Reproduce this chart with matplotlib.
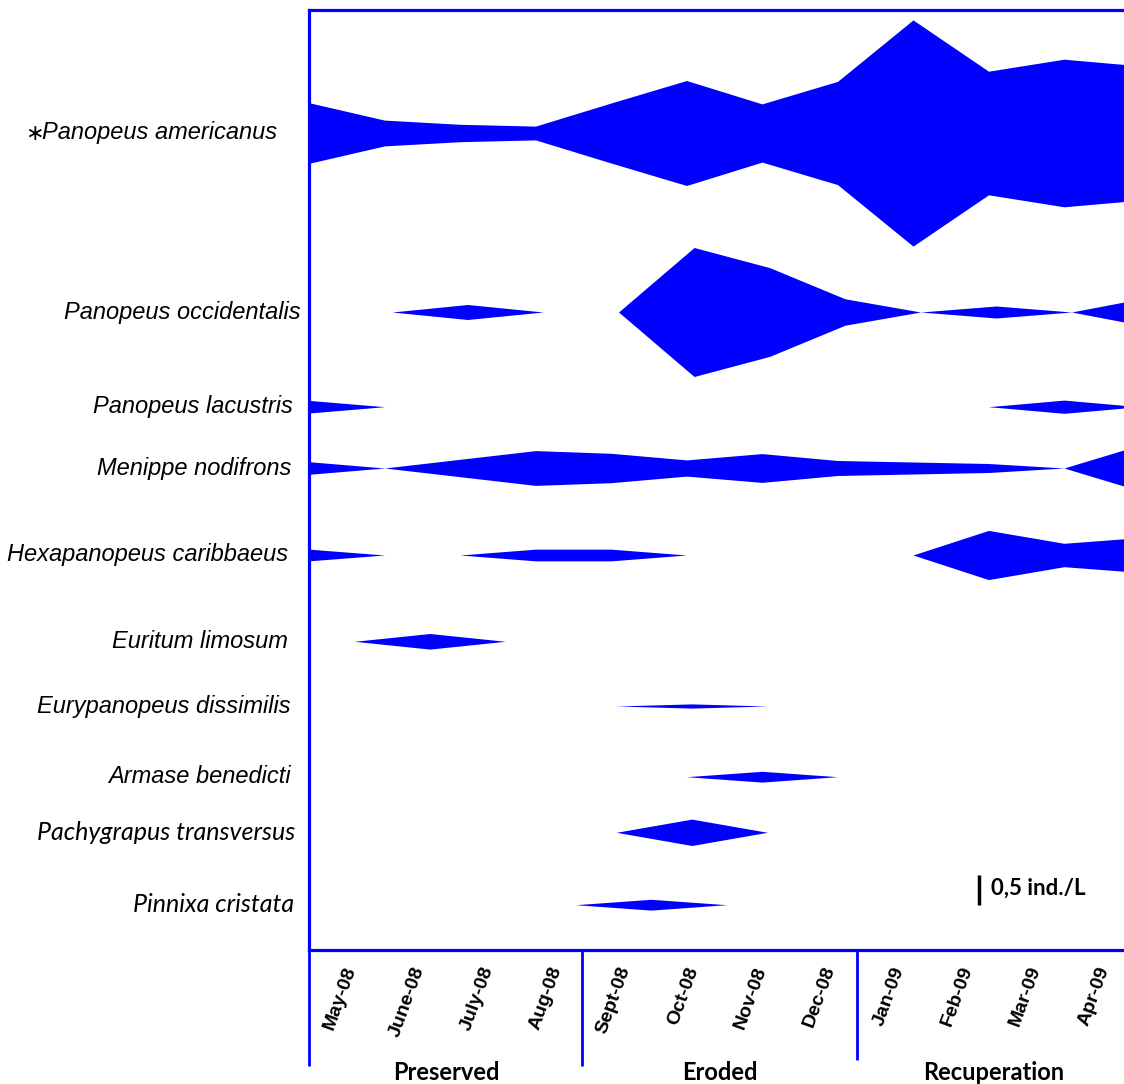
import numpy as np
import matplotlib
matplotlib.use("Agg")
import matplotlib.pyplot as plt

# ---------------- data ----------------
months = ["May-08", "June-08", "July-08", "Aug-08", "Sept-08", "Oct-08",
          "Nov-08", "Dec-08", "Jan-09", "Feb-09", "Mar-09", "Apr-09"]
periods = ["Preserved", "Eroded", "Recuperation"]

species = ["Panopeus americanus", "Panopeus occidentalis", "Panopeus lacustris",
           "Menippe nodifrons", "Hexapanopeus caribbaeus", "Euritum limosum",
           "Eurypanopeus dissimilis", "Armase benedicti", "Pachygrapus transversus",
           "Pinnixa cristata"]

# density (ind./L) per month
p_americanus    = [1.01, 0.43, 0.29, 0.23, 1.00, 1.75, 0.97, 1.72, 3.77, 2.06, 2.46, 2.24]
p_occidentalis  = [0, 0, 0.25, 0, 0, 2.15, 1.48, 0.44, 0, 0.20, 0, 0.48]
p_lacustris     = [0.21, 0, 0, 0, 0, 0, 0, 0, 0, 0, 0.22, 0]
m_nodifrons     = [0.21, 0, 0.29, 0.58, 0.49, 0.27, 0.48, 0.25, 0.20, 0.15, 0, 0.76]
h_caribbaeus    = [0.195, 0, 0, 0.195, 0.195, 0, 0, 0, 0, 0.82, 0.39, 0.58]
e_limosum       = [0, 0.26, 0, 0, 0, 0, 0, 0, 0, 0, 0, 0]
e_dissimilis    = [0, 0, 0, 0, 0, 0.07, 0, 0, 0, 0, 0, 0]
a_benedicti     = [0, 0, 0, 0, 0, 0, 0.18, 0, 0, 0, 0, 0]
p_transversus   = [0, 0, 0, 0, 0, 0.44, 0, 0, 0, 0, 0, 0]
p_cristata      = [0, 0, 0, 0, 0.18, 0, 0, 0, 0, 0, 0, 0]

values = [p_americanus, p_occidentalis, p_lacustris, m_nodifrons, h_caribbaeus,
          e_limosum, e_dissimilis, a_benedicti, p_transversus, p_cristata]

scale_value = 0.5  # ind./L shown by the scale bar

# ---------------- layout ----------------
BLUE = "#0000FF"
W, H = 1124, 1084
row_y = [133, 312, 406.7, 468, 555, 641.3, 706, 776.7, 832.3, 904.7]   # px
row_shift = [0, 0.1, 0, 0, 0, 0.6, 0.07, 0, 0.07, 0.53]               # month units
label_x = [277, 301, 293, 291, 288, 288, 291, 291, 295, 294]
label_font = ["Liberation Sans"] * 8 + ["Lato", "Lato"]
label_size = [17] * 8 + [18, 18]
px_per_unit = 60.0   # full kite width (px) per 1 ind./L
ax_left, ax_top, ax_bottom = 309, 10, 950
month_px = 75.5

fig = plt.figure(figsize=(W / 100, H / 100), dpi=100)
ax = fig.add_axes([ax_left / W, (H - ax_bottom) / H, (W - ax_left) / W,
                   (ax_bottom - ax_top) / H])
ax.set_xlim(0, (W - ax_left) / month_px)
ax.set_ylim(ax_bottom, ax_top)
ax.set_xticks([])
ax.set_yticks([])
for s in ["left", "top", "bottom"]:
    ax.spines[s].set_color(BLUE)
    ax.spines[s].set_linewidth(2.3)
ax.spines["right"].set_visible(False)

x_idx = np.arange(len(months))
for vals, yc, sh in zip(values, row_y, row_shift):
    v = np.asarray(vals, dtype=float)
    half = v * px_per_unit / 2
    ax.fill_between(x_idx + sh, yc - half, yc + half, color=BLUE, lw=0)

# overlay in pixel coordinates for annotations
ov = fig.add_axes([0, 0, 1, 1])
ov.set_xlim(0, W)
ov.set_ylim(H, 0)
ov.axis("off")
ov.patch.set_visible(False)

# species labels
for name, yc, lx, fam, fs in zip(species, row_y, label_x, label_font, label_size):
    ov.text(lx, yc, name, ha="right", va="center", fontsize=fs, style="italic",
            family=fam, color="black")
ov.text(34, 134, "\u2217", ha="center", va="center", fontsize=16,
        family="DejaVu Sans", color="black")

# bottom region: group separators
group_px = [309, 582, 857]
group_end = [1066, 1066, 1060]
for gx, ge in zip(group_px, group_end):
    ov.plot([gx, gx], [ax_bottom, ge], color=BLUE, lw=2.0, solid_capstyle="butt")

grp_w = (857 - 309) / 8
for i, m in enumerate(months):
    cx = 309 + grp_w * (i + 0.5)
    ov.text(cx + 8, 967, m, rotation=70, rotation_mode="anchor", ha="right",
            va="center", fontsize=14, fontweight="bold",
            family="Liberation Sans")

for j, p in enumerate(periods):
    cx = 309 + grp_w * 4 * (j + 0.5)
    ov.text(cx, 1072, p, ha="center", va="center", fontsize=17,
            fontweight="bold", family="Lato")

# scale bar
bar_len = scale_value * px_per_unit
ov.plot([979, 979], [890 - bar_len / 2, 890 + bar_len / 2], color="black",
        lw=2.5, solid_capstyle="butt")
ov.text(991, 888, "0,5 ind./L", ha="left", va="center", fontsize=16,
        fontweight="bold", family="Lato")

fig.savefig("out.png", dpi=100)
